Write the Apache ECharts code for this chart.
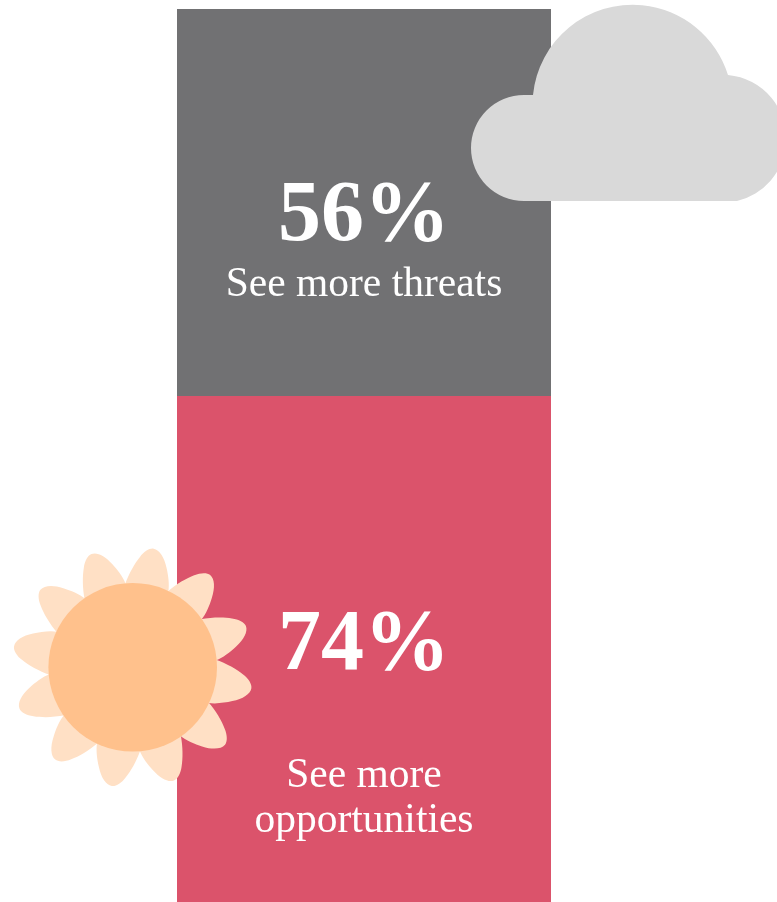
<!DOCTYPE html>
<html>
<head>
<meta charset="utf-8">
<title>Threats and opportunities</title>
<style>
  html, body { margin: 0; padding: 0; background: #fff; overflow: hidden; }
  #chart { width: 777px; height: 902px; }
</style>
<script src="https://cdn.jsdelivr.net/npm/echarts@6/dist/echarts.min.js"></script>
</head>
<body>
<div id="chart"></div>
<script>
// Survey shares, stacked top to bottom
const categories = ['Outlook'];
const threatValues = [56];
const opportunityValues = [74];
const threatCaption = ['See more threats'];
const opportunityCaption = ['See more', 'opportunities'];

const SERIF = '"Liberation Serif", serif';

// Outline of the cloud, in page pixels
const CLOUD_PATH = 'M524,201 A53,53 0 0 1 524,95 L533,95 A100,100 0 0 1 728,75 ' +
  'A64,64 0 0 1 737,201 Z';
// One sun petal, drawn pointing up around the origin
const PETAL_PATH = 'M-22,-80 C-20,-92 -16,-103 -12,-110 C-9,-116 -4,-120.5 0,-120.5 ' +
  'C6,-120.5 12,-114 16,-104 C19,-97 22,-88 22,-80 L0,-40 Z';
const PETAL_ANGLES = [10, 40, 70, 100, 130, 160, 190, 220, 250, 280, 310, 340];

function renderDecorations() {
  const petals = PETAL_ANGLES.map(function (deg) {
    return {
      type: 'path',
      x: 132.7,
      y: 667.3,
      rotation: -deg * Math.PI / 180,
      shape: { pathData: PETAL_PATH },
      style: { fill: '#FFE0C5' }
    };
  });
  return {
    type: 'group',
    children: [
      { type: 'path', shape: { pathData: CLOUD_PATH }, style: { fill: '#D9D9D9' } }
    ].concat(petals, [
      { type: 'circle', shape: { cx: 132.7, cy: 667.3, r: 84.3 }, style: { fill: '#FFC18C' } }
    ])
  };
}

const chart = echarts.init(document.getElementById('chart'), null, { renderer: 'canvas' });

chart.setOption({
  animation: false,
  backgroundColor: '#ffffff',
  // The stack runs past the bottom edge of the page
  grid: { left: 177, top: 9, width: 374, height: 893 },
  xAxis: { type: 'category', data: categories, show: false },
  yAxis: { type: 'value', inverse: true, min: 0, max: 129.2, show: false },
  series: [
    {
      type: 'bar',
      name: 'Threats',
      stack: 'total',
      barWidth: '100%',
      data: threatValues,
      itemStyle: { color: '#717173' },
      label: {
        show: true,
        position: 'inside',
        offset: [0, 41],
        color: '#fff',
        formatter: function (p) {
          return '{v|' + p.value + '%}\n' + threatCaption.map(function (t) { return '{t|' + t + '}'; }).join('\n');
        },
        rich: {
          v: { fontFamily: SERIF, fontWeight: 'bold', fontSize: 86, lineHeight: 84, color: '#fff', align: 'center' },
          t: { fontFamily: SERIF, fontSize: 41.5, lineHeight: 52, color: '#fff', align: 'center' }
        }
      }
    },
    {
      type: 'bar',
      name: 'Opportunities',
      stack: 'total',
      barWidth: '100%',
      data: opportunityValues,
      itemStyle: { color: '#DB536B' },
      label: {
        show: true,
        position: 'inside',
        offset: [0, 75],
        color: '#fff',
        formatter: function (p) {
          return '{v|' + p.value + '%}\n{g| }\n' + opportunityCaption.map(function (t) { return '{t|' + t + '}'; }).join('\n');
        },
        rich: {
          v: { fontFamily: SERIF, fontWeight: 'bold', fontSize: 86, lineHeight: 84, color: '#fff', align: 'center' },
          g: { fontSize: 10, lineHeight: 65 },
          t: { fontFamily: SERIF, fontSize: 41.5, lineHeight: 45, color: '#fff', align: 'center' }
        }
      }
    },
    {
      type: 'custom',
      name: 'Icons',
      coordinateSystem: 'none',
      silent: true,
      z: 5,
      data: [0],
      renderItem: renderDecorations
    }
  ]
});
</script>
</body>
</html>
